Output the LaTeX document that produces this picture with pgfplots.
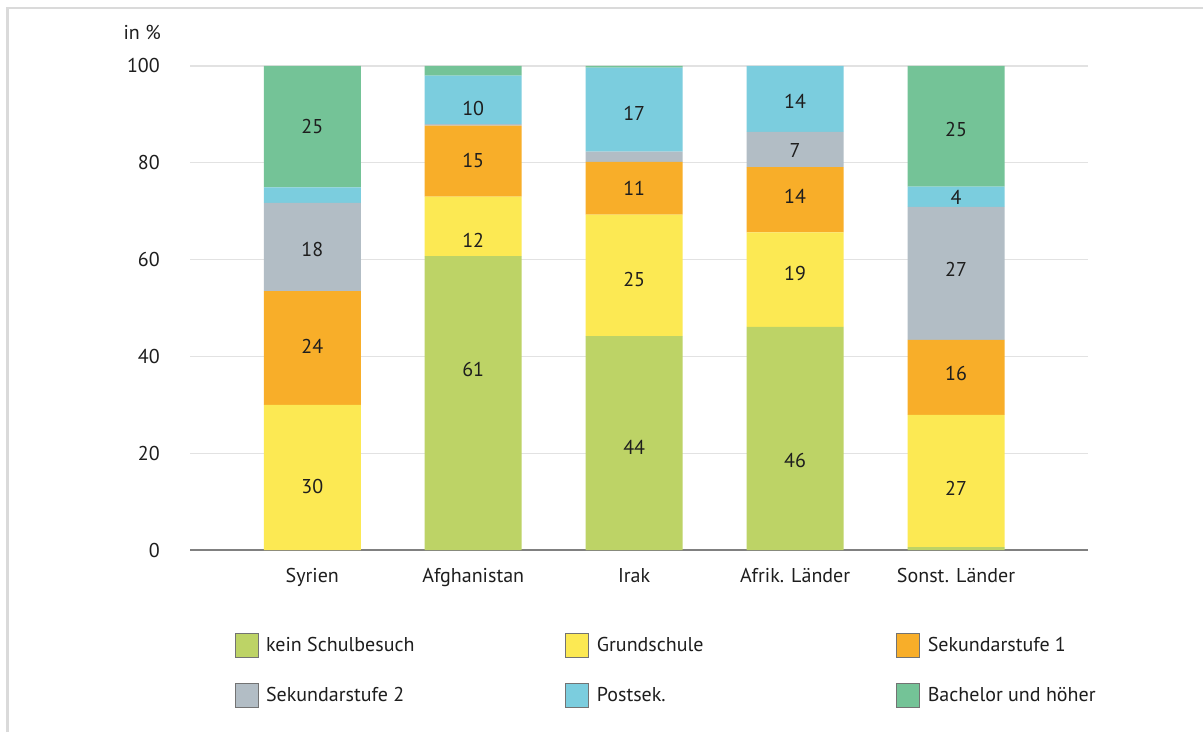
\documentclass[border=0pt]{standalone}
\usepackage{pgfplots}
\pgfplotsset{compat=1.18}
\usepackage{pgfplotstable}
\usepackage{fontspec}
\setmainfont{PT Sans}
\definecolor{cKein}{RGB}{189,211,102}
\definecolor{cGrund}{RGB}{252,233,83}
\definecolor{cSekA}{RGB}{248,174,41}
\definecolor{cSekB}{RGB}{178,189,197}
\definecolor{cPost}{RGB}{123,205,222}
\definecolor{cBach}{RGB}{116,195,151}
\definecolor{cGrid}{RGB}{226,226,226}
\definecolor{cFrame}{RGB}{218,218,218}
\definecolor{cText}{RGB}{30,30,30}

% x: 0 Syrien, 1 Afghanistan, 2 Irak, 3 Afrik. Laender, 4 Sonst. Laender
\pgfplotstableread{
x y
0 0
1 60.7
2 44.2
3 46.1
4 0.6
}\kein
\pgfplotstableread{
x y
0 30.0
1 12.3
2 25.1
3 19.5
4 27.3
}\grund
\pgfplotstableread{
x y
0 23.5
1 14.7
2 10.9
3 13.5
4 15.5
}\sekA
\pgfplotstableread{
x y
0 18.2
1 0.3
2 2.1
3 7.3
4 27.5
}\sekB
\pgfplotstableread{
x y
0 3.2
1 10.0
2 17.35
3 13.6
4 4.2
}\post
\pgfplotstableread{
x y
0 25.1
1 2.0
2 0.35
3 0
4 24.9
}\bach
% label positions (centre of the printed value)
\pgfplotstableread{
x y label
0 87.6 25
0 62.0 18
0 42.1 24
0 13.2 30
1 91.3 10
1 80.4 15
1 64.0 12
1 37.2 61
2 90.2 17
2 74.7 11
2 55.8 25
2 21.3 44
3 92.6 14
3 82.6 7
3 73.1 14
3 57.2 19
3 18.4 46
4 86.9 25
4 72.8 4
4 57.9 27
4 36.4 16
4 12.8 27
}\labels

\newcommand{\lfont}{\fontsize{15}{18}\selectfont}

\begin{document}
\begin{tikzpicture}
\useasboundingbox (0pt,0pt) rectangle (902.25pt,549pt);
\fill[white] (0pt,0pt) rectangle (902.25pt,549pt);
\draw[cFrame, line width=1.9pt] (5.6pt,0pt) -- (5.6pt,543pt) -- (902.25pt,543pt);
\node[anchor=east, inner sep=0pt, font=\lfont, text=cText] at (120.75pt,525pt) {in \%};

\begin{axis}[
  at={(142.5pt,136.5pt)}, anchor=south west, scale only axis,
  width=673.5pt, height=363pt,
  xmin=-0.76, xmax=4.82, ymin=0, ymax=100,
  ybar stacked, bar width=72.75pt,
  axis x line*=bottom, axis y line*=left,
  x axis line style={-, draw=black!50, line width=1.3pt},
  y axis line style={draw=none},
  ytick={0,20,40,60,80,100},
  xtick={0,1,2,3,4},
  xticklabels={Syrien,Afghanistan,Irak,Afrik. Länder,Sonst. Länder},
  major tick length=0pt,
  ymajorgrids, grid style={cGrid, line width=1pt},
  tick label style={font=\lfont, text=cText},
  /pgf/number format/assume math mode=true,
  yticklabel style={anchor=east, inner sep=0pt, xshift=-22.5pt},
  xticklabel style={anchor=north, inner sep=0pt, text height=10.5pt, yshift=-13.5pt},
  legend columns=3,
  legend cell align=left,
  legend style={at={(0.0493,-0.1715)}, anchor=north west, draw=none, fill=none,
    inner sep=0pt, font=\lfont, text=cText, row sep=18.4pt,
    nodes={inner sep=0pt},
    /tikz/every odd column/.append style={column sep=5.8pt}},
  legend image code/.code={\draw[#1, draw=black!55, line width=0.6pt] (0pt,-9pt) rectangle (17.25pt,9pt);},
]
\addplot[fill=cKein, draw=none] table {\kein};
\addlegendentry{\makebox[224.5pt][l]{kein Schulbesuch}}
\addplot[fill=cGrund, draw=none] table {\grund};
\addlegendentry{\makebox[224.5pt][l]{Grundschule}}
\addplot[fill=cSekA, draw=none] table {\sekA};
\addlegendentry{\makebox[224.5pt][l]{Sekundarstufe 1}}
\addplot[fill=cSekB, draw=none] table {\sekB};
\addlegendentry{\makebox[224.5pt][l]{Sekundarstufe 2}}
\addplot[fill=cPost, draw=none] table {\post};
\addlegendentry{\makebox[224.5pt][l]{Postsek.}}
\addplot[fill=cBach, draw=none] table {\bach};
\addlegendentry{\makebox[224.5pt][l]{Bachelor und höher}}
\end{axis}

\begin{axis}[
  at={(142.5pt,136.5pt)}, anchor=south west, scale only axis,
  width=673.5pt, height=363pt,
  xmin=-0.76, xmax=4.82, ymin=0, ymax=100,
  hide axis, clip=false,
]
\addplot[only marks, mark=none, nodes near coords, point meta=explicit symbolic,
  every node near coord/.append style={anchor=center, inner sep=0pt, font=\lfont, text=cText}]
  table[meta=label] {\labels};
\end{axis}
\end{tikzpicture}
\end{document}
